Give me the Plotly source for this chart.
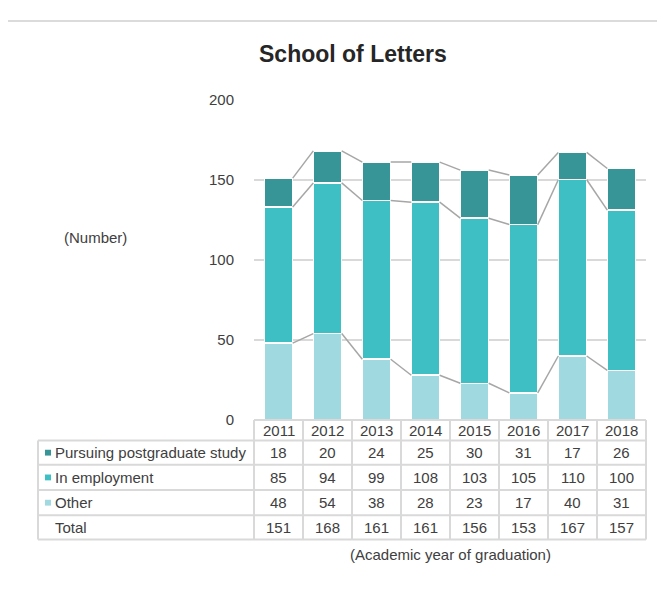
import plotly.graph_objects as go

# Data
years = ["2011", "2012", "2013", "2014", "2015", "2016", "2017", "2018"]
pursuing = [18, 20, 24, 25, 30, 31, 17, 26]
employment = [85, 94, 99, 108, 103, 105, 110, 100]
other = [48, 54, 38, 28, 23, 17, 40, 31]
totals = [151, 168, 161, 161, 156, 153, 167, 157]

series_names = ["Pursuing postgraduate study", "In employment", "Other"]
colors = {"Pursuing postgraduate study": "#389597",
          "In employment": "#3dbfc4",
          "Other": "#a1d9e0"}

W, H = 665, 594
OFF = 8  # page body margin
FONT = "Liberation Sans, Arial, sans-serif"
TXT = "#404040"
GRID = "#d9d9d9"

def px(x):
    return (x - OFF) / W

def py(y):
    return 1 - (y - OFF) / H

# plot area in screen pixels
x_left, x_right = 254, 646
y_zero, y_top = 423, 93
col_w = (x_right - x_left) / len(years)
bar_w = 0.58

fig = go.Figure()

xs = list(range(len(years)))
for name, vals in [("Other", other), ("In employment", employment),
                   ("Pursuing postgraduate study", pursuing)]:
    fig.add_trace(go.Bar(
        x=xs, y=vals, name=name, width=bar_w,
        marker=dict(color=colors[name], line=dict(color="white", width=1.5)),
        showlegend=False,
    ))

# connector lines between stacked segments
levels = [
    other,
    [o + e for o, e in zip(other, employment)],
    [o + e + p for o, e, p in zip(other, employment, pursuing)],
]
lx, ly = [], []
for lev in levels:
    for i in range(len(years) - 1):
        lx += [i + bar_w / 2, i + 1 - bar_w / 2, None]
        ly += [lev[i], lev[i + 1], None]
fig.add_trace(go.Scatter(x=lx, y=ly, mode="lines",
                         line=dict(color="#a6a6a6", width=1.5),
                         showlegend=False, hoverinfo="skip"))

shapes = []
annotations = []

# outer frame
shapes.append(dict(type="rect", xref="paper", yref="paper",
                   x0=px(5), y0=py(12), x1=px(720), y1=py(660),
                   line=dict(color="#d0d0d0", width=1.5)))

# table
row_lines = [444, 469, 495, 521, 546]
tbl_left = 38
line_style = dict(color=GRID, width=2)
shapes.append(dict(type="line", xref="paper", yref="paper",
                   x0=px(x_left), x1=px(x_right), y0=py(423), y1=py(423), line=line_style))
for y in row_lines:
    shapes.append(dict(type="line", xref="paper", yref="paper",
                       x0=px(tbl_left), x1=px(x_right), y0=py(y), y1=py(y), line=line_style))
shapes.append(dict(type="line", xref="paper", yref="paper",
                   x0=px(tbl_left), x1=px(tbl_left), y0=py(row_lines[0]), y1=py(row_lines[-1]),
                   line=line_style))
for k in range(len(years) + 1):
    xv = x_left + k * col_w
    shapes.append(dict(type="line", xref="paper", yref="paper",
                       x0=px(xv), x1=px(xv), y0=py(423), y1=py(row_lines[-1]), line=line_style))

# header year labels
for k, yr in enumerate(years):
    annotations.append(dict(x=px(x_left + (k + 0.5) * col_w), y=py(434), xref="paper", yref="paper",
                            text=yr, showarrow=False, xanchor="center", yanchor="middle",
                            font=dict(size=15, color=TXT, family=FONT)))

row_labels = series_names + ["Total"]
row_values = [pursuing, employment, other, totals]
for r, (lab, vals) in enumerate(zip(row_labels, row_values)):
    yc = (row_lines[r] + row_lines[r + 1]) / 2
    annotations.append(dict(x=px(53), y=py(yc), xref="paper", yref="paper",
                            text=lab, showarrow=False, xanchor="left", yanchor="middle",
                            font=dict(size=15, color=TXT, family=FONT)))
    if lab in colors:
        shapes.append(dict(type="rect", xref="paper", yref="paper",
                           x0=px(45), x1=px(51), y0=py(yc - 3), y1=py(yc + 3),
                           fillcolor=colors[lab], line=dict(width=0)))
    for k, v in enumerate(vals):
        annotations.append(dict(x=px(x_left + (k + 0.5) * col_w), y=py(yc), xref="paper", yref="paper",
                                text=str(v), showarrow=False, xanchor="center", yanchor="middle",
                                font=dict(size=15, color=TXT, family=FONT)))

# titles
annotations.append(dict(x=px(353), y=py(46), xref="paper", yref="paper",
                        text="<b>School of Letters</b>", showarrow=False,
                        xanchor="center", yanchor="middle",
                        font=dict(size=23, color="#262626", family=FONT)))
annotations.append(dict(x=px(96), y=py(235), xref="paper", yref="paper",
                        text="(Number)", showarrow=False, xanchor="center", yanchor="middle",
                        font=dict(size=15, color=TXT, family=FONT)))
annotations.append(dict(x=px(450), y=py(561), xref="paper", yref="paper",
                        text="(Academic year of graduation)", showarrow=False,
                        xanchor="center", yanchor="middle",
                        font=dict(size=15, color=TXT, family=FONT)))

fig.update_layout(
    width=W, height=H,
    margin=dict(l=0, r=0, t=0, b=0),
    paper_bgcolor="white", plot_bgcolor="white",
    barmode="stack",
    shapes=shapes,
    annotations=annotations,
    xaxis=dict(domain=[px(x_left), px(x_right)], range=[-0.5, len(years) - 0.5],
               showticklabels=False, showgrid=False, zeroline=False, showline=False,
               fixedrange=True),
    yaxis=dict(domain=[py(y_zero), py(y_top)], range=[0, 200], dtick=50,
               showgrid=True, gridcolor=GRID, gridwidth=1.5, zeroline=False,
               ticks="outside", ticklen=16, tickcolor="rgba(0,0,0,0)",
               tickfont=dict(size=15, color=TXT, family=FONT), fixedrange=True),
)

fig.write_html("out.html")
